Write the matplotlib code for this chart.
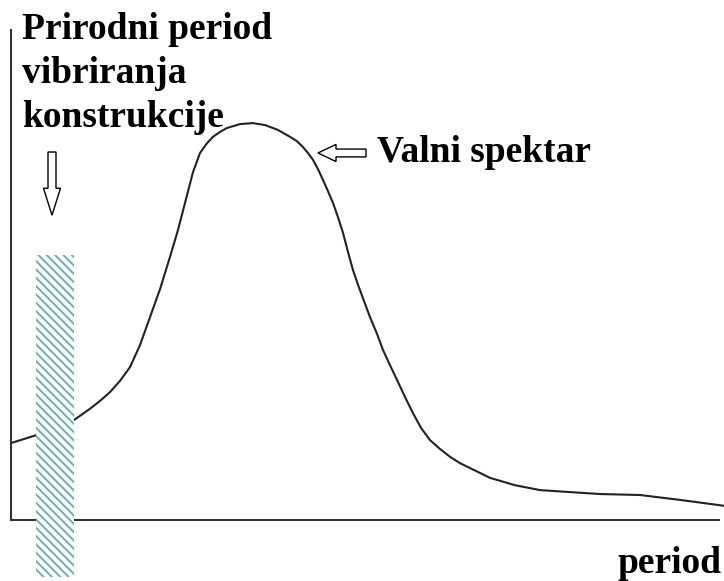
import matplotlib
matplotlib.use("Agg")
import matplotlib.pyplot as plt
from matplotlib.patches import Rectangle, FancyArrow

# Wave spectrum curve (period, amplitude in arbitrary units)
period = [0, 2.5, 4.4, 6.3, 7.9, 8.9, 9.9, 10.9, 11.9, 12.9,
          13.9, 14.9, 15.9, 16.7, 17.4, 18.2, 18.9, 19.6, 20.2, 20.9,
          21.6, 22.9, 24.2, 25.4, 26.7, 27.9, 28.6, 29.2, 29.7, 30.2,
          30.7, 31.2, 31.7, 32.2, 32.7, 33.2, 33.7, 34.2, 34.7, 35.3,
          35.9, 36.6, 37.2, 37.9, 38.6, 39.4, 40.2, 41.0, 41.9, 42.9,
          43.9, 44.9, 45.9, 47.9, 50.4, 52.9, 55.9, 58.9, 62.9, 66.9,
          71.3]
spectrum = [15.7, 17.3, 18.8, 20.4, 22.7, 24.3, 26.1, 28.4, 31.2, 35.7,
            41.4, 47.1, 53.7, 59.2, 64.7, 71.0, 74.9, 76.9, 78.2, 79.2,
            80.0, 80.8, 81.0, 80.6, 79.6, 78.2, 77.3, 76.1, 74.9, 73.5,
            71.6, 69.4, 67.1, 64.7, 61.8, 58.6, 54.7, 51.0, 48.0, 44.7,
            41.4, 38.0, 34.7, 31.6, 28.6, 25.1, 21.8, 18.8, 16.3, 14.5,
            12.9, 11.6, 10.6, 8.6, 7.1, 6.1, 5.7, 5.3, 5.1, 4.1,
            2.9]

# natural period band of the structure
band_start = 2.5
band_end = 6.3

title_lines = ["Prirodni period", "vibriranja", "konstrukcije"]
curve_label = "Valni spektar"
x_label = "period"

FONT = dict(family="Liberation Serif", weight="bold", size=27, color="black")
plt.rcParams["hatch.linewidth"] = 1.4

W, H = 724, 581
fig = plt.figure(figsize=(W / 100, H / 100), dpi=100)
ax = fig.add_axes([11 / W, (H - 520) / H, (W - 11) / W, 490 / H])
ax.set_xlim(0, 71.3)
ax.set_ylim(0, 100)

ax.plot(period, spectrum, color="#222222", lw=1.5, zorder=2,
        solid_joinstyle="round")

band = Rectangle((band_start, -11.6), band_end - band_start, 65.7,
                 facecolor="white", edgecolor="#6aaeb2", hatch="\\" * 4,
                 linewidth=0, clip_on=False, zorder=3)
ax.add_patch(band)

# hollow arrows
ax.add_patch(FancyArrow(4.1, 75.1, 0, -12.9, width=0.8, head_width=1.7,
                        head_length=5.5, length_includes_head=True,
                        facecolor="white", edgecolor="black", lw=1.0,
                        clip_on=False, zorder=4))
ax.add_patch(FancyArrow(35.5, 74.9, -4.8, 0, width=1.6, head_width=3.5,
                        head_length=1.8, length_includes_head=True,
                        facecolor="white", edgecolor="black", lw=1.0,
                        clip_on=False, zorder=4))

for s in ["top", "right"]:
    ax.spines[s].set_visible(False)
for s in ["left", "bottom"]:
    ax.spines[s].set_color("#333333")
    ax.spines[s].set_linewidth(1.5)
ax.spines["bottom"].set_bounds(0, 70.8)
ax.set_xticks([])
ax.set_yticks([])

for line, base in zip(title_lines, [39, 83, 127]):
    fig.text(22 / W, 1 - base / H, line, ha="left", va="baseline", **FONT)
fig.text(377 / W, 1 - 162 / H, curve_label, ha="left", va="baseline", **FONT)
fig.text(722 / W, 1 - 573 / H, x_label, ha="right", va="baseline", **FONT)

fig.savefig("out.png", dpi=100)
